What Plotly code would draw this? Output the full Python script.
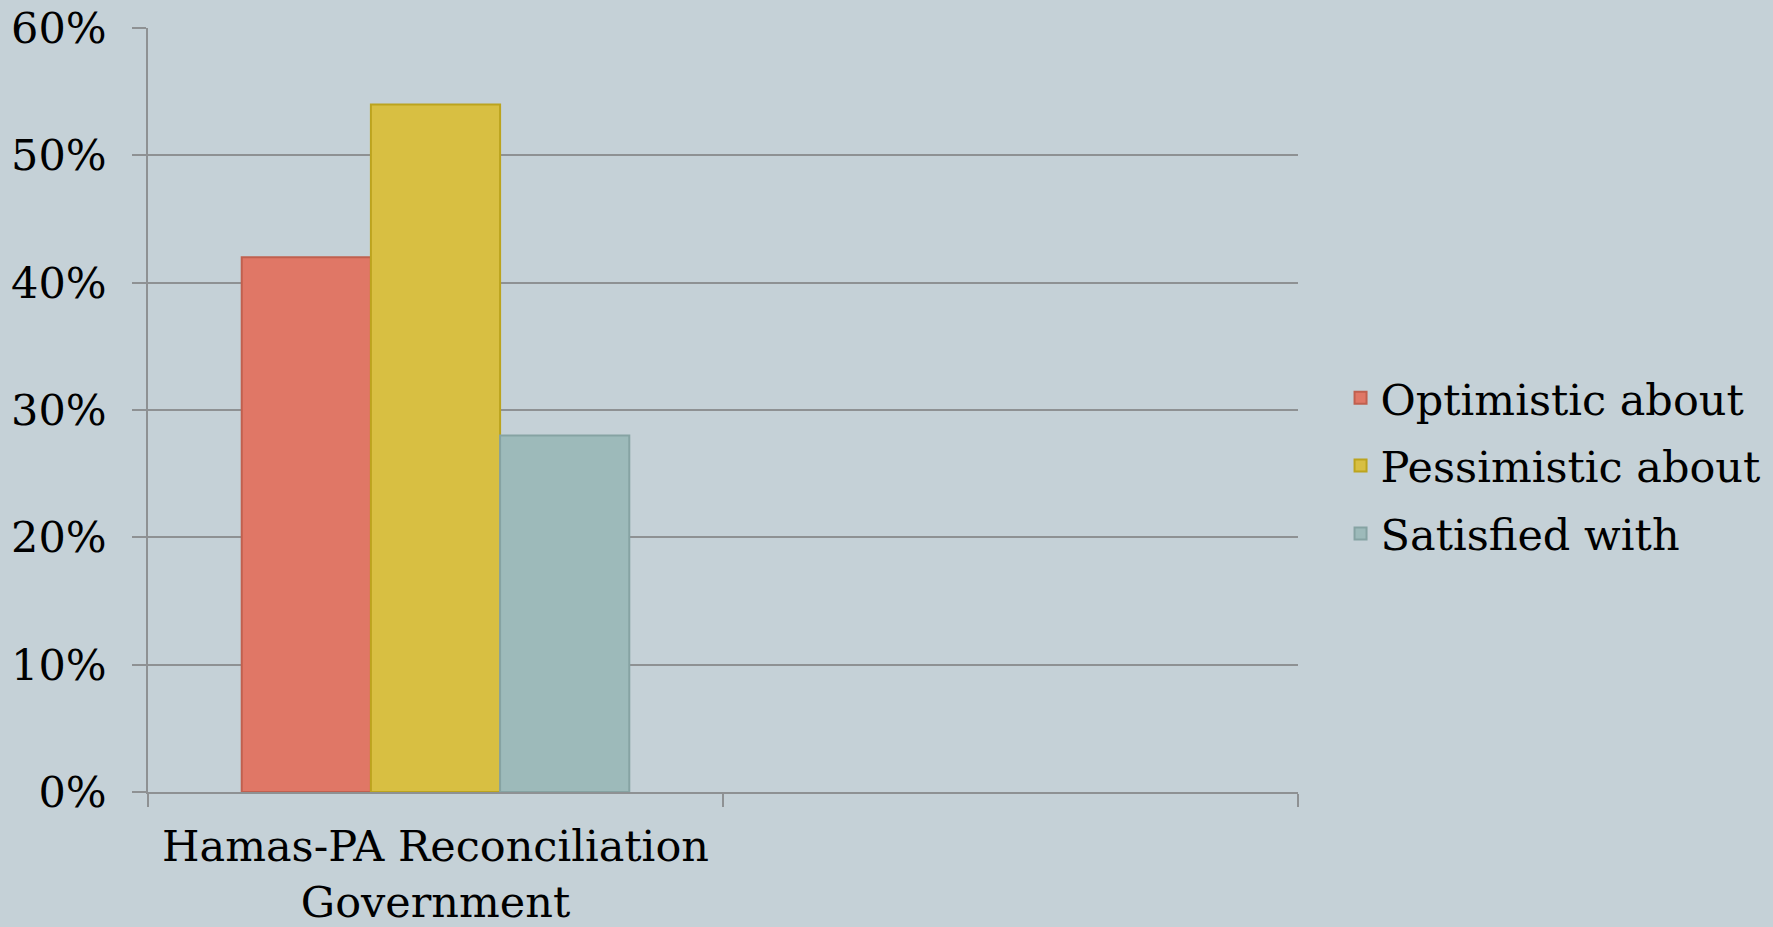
import plotly.graph_objects as go

categories = ["Hamas-PA Reconciliation<br>Government", " "]
series_names = ["Optimistic about", "Pessimistic about", "Satisfied with"]
optimistic = [42, None]
pessimistic = [54, None]
satisfied = [28, None]
y_ticks = [0, 10, 20, 30, 40, 50, 60]
y_ticklabels = ["0%", "10%", "20%", "30%", "40%", "50%", "60%"]

fills = ["#E07766", "#D8BF42", "#9DBABA"]
lines = ["#C0604F", "#BCA41E", "#86A3A3"]
values = [optimistic, pessimistic, satisfied]

FONT = "DejaVu Serif"
FS = 43
BG = "#C5D1D7"
GRID = "#8E9193"

fig = go.Figure()
for name, vals, fc, lc in zip(series_names, values, fills, lines):
    fig.add_trace(go.Bar(
        x=categories, y=vals, name=name, legendgroup=name,
        marker=dict(color=fc, line=dict(color=lc, width=2)),
    ))

fig.update_layout(
    width=1773, height=927,
    paper_bgcolor=BG, plot_bgcolor=BG,
    barmode="group", bargap=0.326, bargroupgap=0,
    margin=dict(l=148, r=475, t=28, b=135, autoexpand=False),
    font=dict(family=FONT, size=FS, color="#000000"),
    showlegend=True,
    legend=dict(
        x=1.037, y=0.427, xanchor="left", yanchor="middle",
        bgcolor="rgba(0,0,0,0)", font=dict(size=FS, family=FONT),
        traceorder="grouped", tracegroupgap=9, itemwidth=30,
    ),
    xaxis=dict(
        type="category", tickson="boundaries", ticks="outside", ticklen=13,
        tickcolor=GRID, tickwidth=1.5, tickangle=0, automargin=False,
        showline=True, linecolor=GRID, linewidth=1.5,
        showgrid=False, tickfont=dict(size=FS, family=FONT),
        ticklabelstandoff=16,
    ),
    yaxis=dict(
        range=[0, 60], tickvals=y_ticks, ticktext=y_ticklabels,
        ticks="outside", ticklen=14, tickcolor=GRID, tickwidth=1.5,
        showline=True, linecolor=GRID, linewidth=1.5, automargin=False,
        showgrid=True, gridcolor=GRID, gridwidth=1.5,
        zeroline=False, tickfont=dict(size=FS, family=FONT),
        ticklabelstandoff=17,
    ),
)

fig.write_html(
    "out.html",
    config={"displayModeBar": False},
    post_script="document.body.style.margin='0';document.body.style.background='#C5D1D7';",
)
